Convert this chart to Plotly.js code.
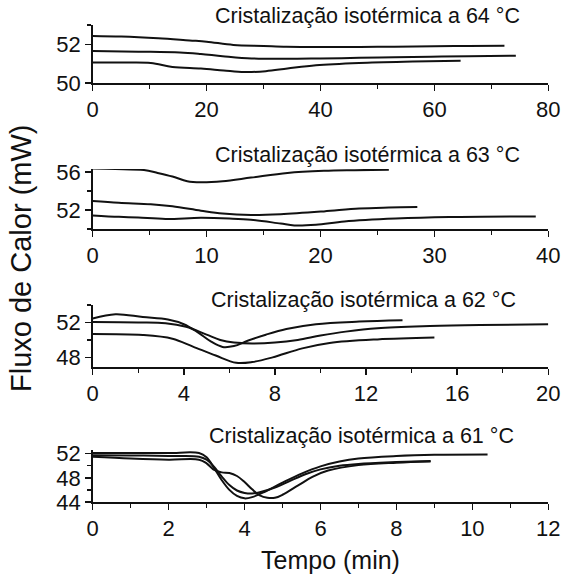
<!DOCTYPE html>
<html>
<head>
<meta charset="utf-8">
<script src="https://cdn.plot.ly/plotly-3.0.1.min.js"></script>
<style>html,body{margin:0;padding:0;background:#fff;}#chart{width:563px;height:578px;}</style>
</head>
<body>
<div id="chart"></div>
<script>
// Panel 1: 64 °C
const t64a = [0, 5, 11.5, 17, 20, 24.7, 30, 34, 40, 47, 53, 60, 66, 72.3];
const f64a = [52.43, 52.4, 52.31, 52.2, 52.14, 51.97, 51.92, 51.88, 51.86, 51.86, 51.88, 51.90, 51.92, 51.93];
const t64b = [0, 8, 15.3, 19, 22.8, 27.9, 34.2, 40, 46.8, 53, 59.4, 66, 74.3];
const f64b = [51.65, 51.62, 51.58, 51.5, 51.39, 51.27, 51.25, 51.27, 51.30, 51.33, 51.36, 51.38, 51.41];
const t64c = [0, 5, 10.2, 14, 19, 23, 26.6, 30.4, 34.2, 39.2, 46.8, 56.2, 64.6];
const f64c = [51.06, 51.06, 51.04, 50.83, 50.75, 50.65, 50.57, 50.61, 50.75, 50.92, 51.04, 51.11, 51.15];
// Panel 2: 63 °C
const t63a = [0, 2, 4.5, 5.7, 7, 8.3, 9.5, 11.4, 13.9, 17.1, 20.3, 23, 26];
const f63a = [56.34, 56.3, 56.19, 55.89, 55.51, 55.02, 54.91, 55.02, 55.4, 55.89, 56.11, 56.18, 56.23];
const t63b = [0, 2.3, 5.1, 7, 9.5, 11.4, 13.9, 16.5, 20.3, 23.4, 26, 28.5];
const f63b = [52.94, 52.75, 52.6, 52.38, 51.92, 51.62, 51.47, 51.55, 51.85, 52.15, 52.25, 52.3];
const t63c = [0, 2.3, 4, 6.4, 9.5, 12, 13.9, 16.5, 17.7, 19.6, 22.1, 26.6, 31.3, 38.9];
const f63c = [51.43, 51.28, 51.2, 51.06, 51.17, 51.1, 50.98, 50.57, 50.38, 50.45, 50.79, 51.09, 51.25, 51.32];
// Panel 3: 62 °C
const t62a = [0, 1.0, 2.2, 3.3, 4.0, 4.6, 5.2, 5.7, 6.2, 6.8, 7.6, 8.5, 9.8, 11.7, 13.6];
const f62a = [52.45, 52.95, 52.62, 52.33, 51.8, 50.9, 49.8, 49.2, 49.3, 49.9, 50.6, 51.25, 51.8, 52.1, 52.25];
const t62b = [0, 2, 3.2, 4.1, 5.0, 5.6, 6.2, 7.0, 8.0, 9.0, 10.0, 11.1, 12.5, 14.8, 17, 20];
const f62b = [52.04, 52.0, 51.92, 51.5, 50.6, 50.0, 49.7, 49.6, 49.7, 50.0, 50.5, 50.95, 51.35, 51.6, 51.72, 51.79];
const t62c = [0, 2.2, 3.5, 4.4, 5.4, 6.3, 7.0, 7.9, 9.2, 10.4, 12.5, 15];
const f62c = [50.68, 50.56, 50.14, 49.24, 48.21, 47.38, 47.46, 48.0, 49.03, 49.65, 50.06, 50.27];
// Panel 4: 61 °C
const t61a = [0, 1, 2, 2.8, 3.0, 3.2, 3.4, 3.6, 3.8, 4.0, 4.2, 4.5, 5.0, 5.5, 6.0, 6.5, 7.0, 8.0, 9.0, 10.4];
const f61a = [52.1, 52.1, 52.1, 52.1, 51.4, 49.6, 47.6, 46.0, 45.0, 44.6, 44.8, 45.6, 47.2, 48.7, 49.9, 50.7, 51.2, 51.6, 51.8, 51.85];
const t61b = [0, 1, 2, 2.8, 3.0, 3.2, 3.4, 3.6, 3.8, 4.0, 4.2, 4.4, 4.8, 5.2, 5.6, 6.0, 6.5, 7, 8, 8.9];
const f61b = [51.75, 51.7, 51.6, 51.5, 51.0, 49.8, 48.2, 46.8, 45.9, 45.5, 45.4, 45.6, 46.4, 47.5, 48.6, 49.4, 50.0, 50.3, 50.6, 50.8];
const t61c = [0, 1, 2, 2.8, 3.0, 3.2, 3.4, 3.6, 3.8, 4.0, 4.2, 4.4, 4.6, 4.8, 5.0, 5.4, 5.8, 6.2, 7, 8, 8.9];
const f61c = [51.5, 51.2, 51.0, 51.0, 50.4, 49.3, 48.9, 48.8, 48.3, 47.3, 46.1, 45.1, 44.7, 44.7, 45.2, 46.7, 48.2, 49.2, 50.1, 50.5, 50.7];

const panelTitles = ['Cristalização isotérmica a 64 °C', 'Cristalização isotérmica a 63 °C',
                     'Cristalização isotérmica a 62 °C', 'Cristalização isotérmica a 61 °C'];
const xLabel = 'Tempo (min)';
const yLabel = 'Fluxo de Calor (mW)';

const series = [
  [[t64a, f64a], [t64b, f64b], [t64c, f64c]],
  [[t63a, f63a], [t63b, f63b], [t63c, f63c]],
  [[t62a, f62a], [t62b, f62b], [t62c, f62c]],
  [[t61a, f61a], [t61b, f61b], [t61c, f61c]]
];

const traces = [];
series.forEach((group, i) => {
  const n = i === 0 ? '' : String(i + 1);
  group.forEach(([x, y]) => {
    traces.push({x: x, y: y, type: 'scatter', mode: 'lines', xaxis: 'x' + n, yaxis: 'y' + n,
      line: {color: '#111', width: 2, shape: 'spline', smoothing: 1}, showlegend: false, hoverinfo: 'skip'});
  });
});

const FONT = 'Liberation Sans, Arial, Helvetica, sans-serif';
const xdom = [92.7 / 563, 548.3 / 563];
const H = 578;
function dom(bottom, top) { return [1 - bottom / H, 1 - top / H]; }

const TICKFONT = {size: 22, color: '#111', family: FONT};
function xax(range, dtick, minorD, anchor) {
  return {domain: xdom, range: range, anchor: anchor, showline: true, linecolor: '#111', linewidth: 1.5,
    ticks: 'outside', ticklen: 6, tickwidth: 1.5, tickcolor: '#111', dtick: dtick, tick0: 0,
    minor: {dtick: minorD, tick0: 0, ticks: 'outside', ticklen: 4, tickwidth: 1.5, tickcolor: '#111', showgrid: false},
    showgrid: false, zeroline: false, tickfont: TICKFONT, fixedrange: true};
}
function yax(range, domain, tickvals, minorVals, anchor) {
  return {domain: domain, range: range, anchor: anchor, showline: true, linecolor: '#111', linewidth: 1.5,
    ticks: 'outside', ticklen: 6, tickwidth: 1.5, tickcolor: '#111', tickmode: 'array', tickvals: tickvals,
    minor: {tickmode: 'array', tickvals: minorVals, ticks: 'outside', ticklen: 4, tickwidth: 1.5, tickcolor: '#111', showgrid: false},
    showgrid: false, zeroline: false, tickfont: TICKFONT, fixedrange: true};
}

const annFont = {size: 21.5, color: '#111', family: FONT};
const layout = {
  width: 563, height: 578, margin: {l: 0, r: 0, t: 0, b: 0},
  paper_bgcolor: '#fff', plot_bgcolor: 'rgba(0,0,0,0)', showlegend: false,
  font: {family: FONT, color: '#111'},
  xaxis:  xax([0, 80], 20, 10, 'y'),
  yaxis:  yax([50, 53], dom(83, 25), [50, 52], [53], 'x'),
  xaxis2: xax([0, 40], 10, 5, 'y2'),
  yaxis2: yax([50, 56.3], dom(229, 169), [52, 56], [50, 54], 'x2'),
  xaxis3: xax([0, 20], 4, 2, 'y3'),
  yaxis3: yax([46.9, 54], dom(367, 305), [48, 52], [50, 54], 'x3'),
  xaxis4: xax([0, 12], 2, 1, 'y4'),
  yaxis4: yax([44, 52.6], dom(502, 450), [44, 48, 52], [46, 50], 'x4'),
  annotations: [
    {text: panelTitles[0], xref: 'paper', yref: 'paper', x: 367 / 563, y: 1 - 16 / H, xanchor: 'center', yanchor: 'middle', showarrow: false, font: annFont},
    {text: panelTitles[1], xref: 'paper', yref: 'paper', x: 367 / 563, y: 1 - 155 / H, xanchor: 'center', yanchor: 'middle', showarrow: false, font: annFont},
    {text: panelTitles[2], xref: 'paper', yref: 'paper', x: 363 / 563, y: 1 - 300 / H, xanchor: 'center', yanchor: 'middle', showarrow: false, font: annFont},
    {text: panelTitles[3], xref: 'paper', yref: 'paper', x: 361 / 563, y: 1 - 436 / H, xanchor: 'center', yanchor: 'middle', showarrow: false, font: annFont},
    {text: xLabel, xref: 'paper', yref: 'paper', x: 330 / 563, y: 1 - 560 / H, xanchor: 'center', yanchor: 'middle', showarrow: false, font: {size: 25, color: '#111', family: FONT}},
    {text: yLabel, xref: 'paper', yref: 'paper', x: 21 / 563, y: 1 - 258 / H, xanchor: 'center', yanchor: 'middle', textangle: -90, showarrow: false, font: {size: 29, color: '#111', family: FONT}}
  ]
};

Plotly.newPlot('chart', traces, layout, {staticPlot: true, displayModeBar: false});
</script>
</body>
</html>
